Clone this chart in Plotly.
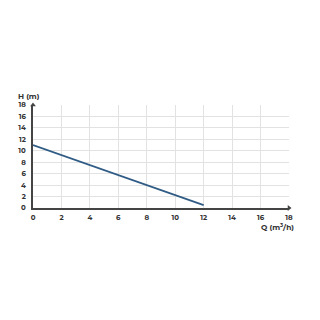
import plotly.graph_objects as go

q = [0, 12]
h = [11, 0.5]
ticks = [0, 2, 4, 6, 8, 10, 12, 14, 16, 18]

fig = go.Figure()
fig.add_trace(go.Scatter(x=q, y=h, mode="lines",
                         line=dict(color="#2f5b85", width=1.7), hoverinfo="skip"))
# arrow heads at axis ends
fig.add_trace(go.Scatter(x=[0, 18], y=[18, 0], mode="markers", cliponaxis=False,
                         marker=dict(symbol=["triangle-up", "triangle-right"], size=5,
                                     color="#444"), hoverinfo="skip"))

axis_common = dict(range=[0, 18], tickvals=ticks, showgrid=True, gridcolor="#e2e2e2",
                   gridwidth=1, zeroline=False, showline=True, linecolor="#444", linewidth=1.5,
                   ticks="",
                   tickfont=dict(family="Montserrat, Lato, sans-serif", size=7, color="#333", weight="bold"))
fig.update_xaxes(**axis_common, ticklabelstandoff=2)
fig.update_yaxes(**axis_common, ticklabelstandoff=4)

lab_font = dict(family="Montserrat, Lato, sans-serif", size=7.5, color="#333", weight="bold")
fig.add_annotation(x=0, y=18, xref="x", yref="y", text="H (m)", showarrow=False,
                   xanchor="right", yanchor="bottom", xshift=9, yshift=2, font=lab_font)
fig.add_annotation(x=18, y=0, xref="x", yref="y", text="Q (m<sup>3</sup>/h)", showarrow=False,
                   xanchor="right", yanchor="top", xshift=7, yshift=-12, font=lab_font)

fig.update_layout(width=320, height=320, margin=dict(l=33, r=31, t=105, b=112),
                  plot_bgcolor="white", paper_bgcolor="white", showlegend=False)
fig.write_html("out.html")
